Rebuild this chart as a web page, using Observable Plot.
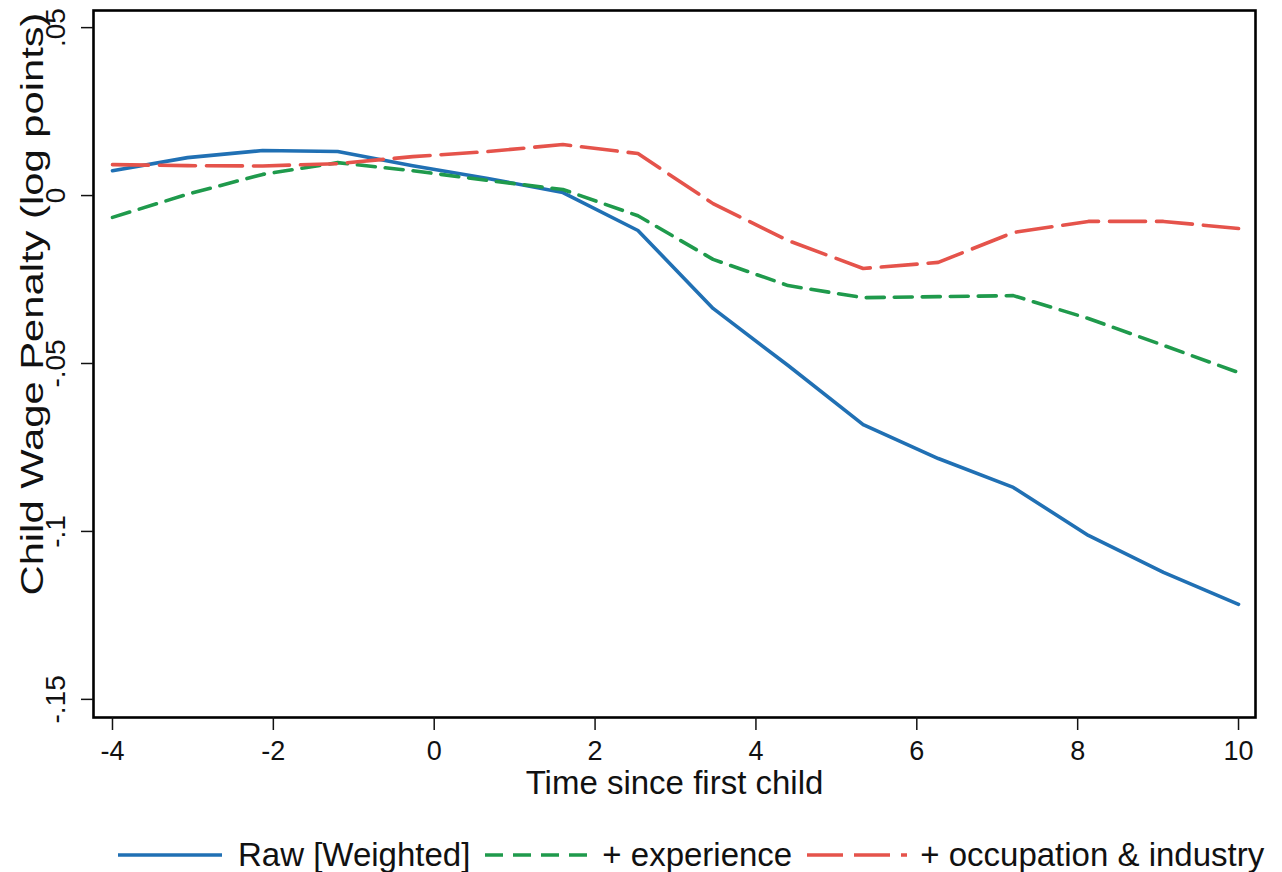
<!DOCTYPE html>
<html>
<head>
<meta charset="utf-8">
<script src="https://cdn.jsdelivr.net/npm/d3@7"></script>
<script src="https://cdn.jsdelivr.net/npm/@observablehq/plot@0.6"></script>
<style>
  html, body { margin: 0; padding: 0; background: #fff; }
  body { width: 1282px; height: 872px; overflow: hidden; font-family: "Liberation Sans", Arial, sans-serif; }
  #legend { display: flex; justify-content: flex-start; align-items: center; height: 38px; margin-top: 6px; padding-left: 118px; font-size: 33px; line-height: 36px; color: #111; white-space: nowrap; }
  #legend .item { display: flex; align-items: center; }
  #legend svg { display: block; }
</style>
</head>
<body>
<div id="chart"></div>
<div id="legend"></div>
<script>
// Time since first child (16 evenly spaced event-time points)
const time = [-4, -3.067, -2.133, -1.2, -0.267, 0.667, 1.6, 2.533, 3.467, 4.4, 5.333, 6.267, 7.2, 8.133, 9.067, 10];
// Child wage penalty (log points)
const raw = [0.0074, 0.0113, 0.0134, 0.0131, 0.0089, 0.0051, 0.0009, -0.0104, -0.0336, -0.0506, -0.0682, -0.0783, -0.0869, -0.1012, -0.1122, -0.1217];
const experience = [-0.0065, 0.0004, 0.0063, 0.0098, 0.0074, 0.0045, 0.0018, -0.006, -0.019, -0.0268, -0.0304, -0.0301, -0.0298, -0.0366, -0.0446, -0.0527];
const occupation = [0.0092, 0.0089, 0.0088, 0.0095, 0.0116, 0.0131, 0.0152, 0.0125, -0.0024, -0.0134, -0.0217, -0.0199, -0.011, -0.0077, -0.0077, -0.0098];

const seriesNames = ["Raw [Weighted]", "+ experience", "+ occupation & industry"];
const seriesColors = ["#2070b4", "#1f9a4c", "#e5534b"];
const seriesDash = [null, "18,10", "36,11"];

const xTicks = [-4, -2, 0, 2, 4, 6, 8, 10];
const yTicks = [0.05, 0, -0.05, -0.1, -0.15];
const yTickLabels = [".05", "0", "-.05", "-.1", "-.15"];
const xTitle = "Time since first child";
const yTitle = "Child Wage Penalty (log points)";

const seriesValues = [raw, experience, occupation];
const rows = [];
seriesValues.forEach((vals, s) => vals.forEach((v, i) => rows.push({series: seriesNames[s], t: time[i], v})));
const yLabelRows = yTicks.map((v, i) => ({v, label: yTickLabels[i]}));

const lineMarks = seriesNames.map((name, s) => Plot.line(rows.filter(r => r.series === name), {
  x: "t", y: "v", stroke: seriesColors[s], strokeWidth: 3.6,
  strokeDasharray: seriesDash[s] || undefined, strokeLinejoin: "round"
}));

const chart = Plot.plot({
  width: 1282,
  height: 830,
  marginLeft: 93,
  marginRight: 27,
  marginTop: 10,
  marginBottom: 113,
  style: {fontFamily: "'Liberation Sans', Arial, sans-serif", color: "#111", background: "#fff"},
  x: {domain: [-4.236, 10.211]},
  y: {domain: [-0.1554, 0.0551]},
  marks: [
    ...lineMarks,
    Plot.frame({stroke: "#000", strokeWidth: 2.6}),
    Plot.axisX({ticks: xTicks, tickSize: 13, tickPadding: 10, fontSize: 27, tickFormat: d => String(d), label: null, strokeWidth: 1.5}),
    Plot.axisY({ticks: yTicks, tickSize: 12, tickFormat: () => "", label: null, strokeWidth: 1.5}),
    Plot.text(yLabelRows, {y: "v", text: "label", frameAnchor: "left", textAnchor: "middle", dx: -37, rotate: -90, fontSize: 28, fill: "#111"}),
    Plot.text([xTitle], {frameAnchor: "bottom", dy: 76, fontSize: 33, fill: "#111"}),
    Plot.text([yTitle], {frameAnchor: "left", textAnchor: "middle", dx: -60, dy: -60, rotate: -90, fontSize: 31, fill: "#111", className: "ytitle"})
  ]
});
document.getElementById("chart").appendChild(chart);

// stretch y title along its length as in the reference
d3.select(chart).selectAll(".ytitle text").attr("textLength", 583).attr("lengthAdjust", "spacingAndGlyphs");

// legend
const legend = d3.select("#legend");
const lineLens = [104, 102, 100];
const gapsAfterLine = [16, 15, 13];
seriesNames.forEach((name, s) => {
  const item = legend.append("div").attr("class", "item").style("margin-left", s === 0 ? "0px" : "15px");
  const svg = item.append("svg").attr("width", lineLens[s]).attr("height", 12);
  svg.append("line").attr("x1", 0).attr("x2", lineLens[s]).attr("y1", 6).attr("y2", 6)
    .attr("stroke", seriesColors[s]).attr("stroke-width", 3.4)
    .attr("stroke-dasharray", seriesDash[s] || null);
  item.append("span").style("margin-left", gapsAfterLine[s] + "px").text(name);
});
</script>
</body>
</html>
